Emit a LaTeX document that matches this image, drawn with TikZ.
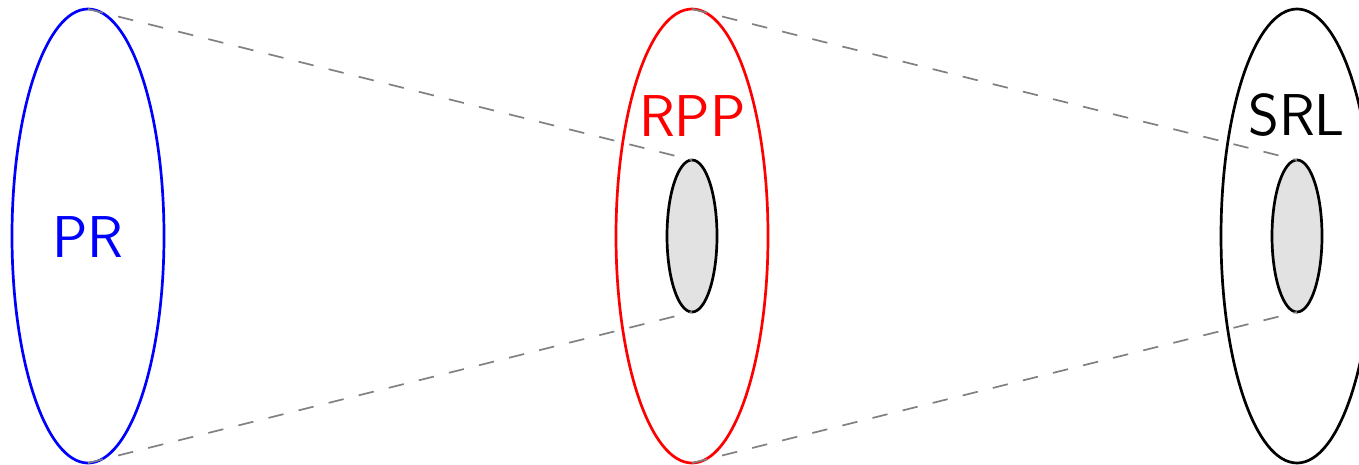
\documentclass[tikz,border=0pt]{standalone}
\usetikzlibrary{shapes.geometric}
\renewcommand{\familydefault}{\sfdefault}
\begin{document}
\begin{tikzpicture}[x=1pt,y=-1pt,
  outer/.style={ellipse,draw,line width=2.7pt,inner sep=0pt,outer sep=0pt,minimum width=152pt,minimum height=454pt},
  inner/.style={ellipse,draw=black,fill=gray!23,line width=2.7pt,inner sep=0pt,outer sep=0pt,minimum width=50pt,minimum height=152pt},
  conn/.style={gray,line width=1.7pt,dash pattern=on 15.5pt off 15.5pt},
  lbl/.style={font=\fontsize{59}{63}\selectfont,inner sep=0pt}]
\useasboundingbox (0,0) rectangle (1359,464);
\node[outer,draw=blue] (e1) at (88,236) {};
\node[outer,draw=red] (e2) at (692,236) {};
\node[outer,draw=black] (e3) at (1297,236) {};
\node[inner] (i2) at (692,236) {};
\node[inner] (i3) at (1297,236) {};
\draw[conn] (e1.north) -- (i2.north);
\draw[conn] (e1.south) -- (i2.south);
\draw[conn] (e2.north) -- (i3.north);
\draw[conn] (e2.south) -- (i3.south);
\node[lbl,text=blue] (t1) at (88,237) {PR};
\node[lbl,text=red] (t2) at (692.5,116) {RPP};
\node[lbl,text=black] (t3) at (1296.5,115) {SRL};
\end{tikzpicture}
\end{document}
